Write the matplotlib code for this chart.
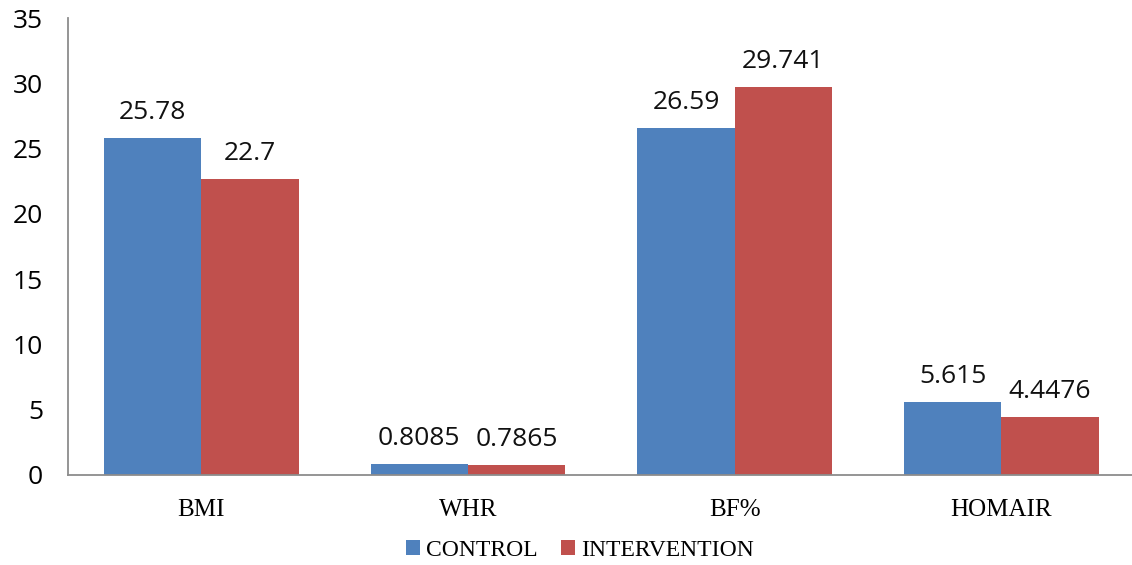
import numpy as np
import matplotlib.pyplot as plt

categories = ['BMI', 'WHR', 'BF%', 'HOMAIR']
control = [25.78, 0.8085, 26.59, 5.615]
intervention = [22.7, 0.7865, 29.741, 4.4476]
control_labels = ['25.78', '0.8085', '26.59', '5.615']
intervention_labels = ['22.7', '0.7865', '29.741', '4.4476']
yticks = [0, 5, 10, 15, 20, 25, 30, 35]

fig = plt.figure(figsize=(11.32, 5.65), dpi=100)
ax = fig.add_axes([68 / 1132, 90 / 565, 1 - 68 / 1132, 457 / 565])

x = np.arange(len(categories))
w = 0.365
b1 = ax.bar(x - w / 2, control, w, color='#4F81BD', label='CONTROL')
b2 = ax.bar(x + w / 2, intervention, w, color='#C0504D', label='INTERVENTION')

# value labels above each bar
for bars, labels in ((b1, control_labels), (b2, intervention_labels)):
    for rect, txt in zip(bars, labels):
        ax.text(rect.get_x() + rect.get_width() / 2, rect.get_height() + 1.0, txt,
                ha='center', va='bottom', fontsize=19, family='Open Sans', color='#111111')

ax.set_xlim(-0.5, 3.49)
ax.set_ylim(0, 35)
ax.set_yticks(yticks)
ax.set_yticklabels([str(t) for t in yticks], fontsize=19, family='Open Sans')
ax.set_xticks(x)
ax.set_xticklabels(categories, fontsize=18, family='Liberation Serif')
ax.tick_params(axis='both', length=0)
ax.tick_params(axis='y', pad=18)
ax.tick_params(axis='x', pad=17)

for s in ('top', 'right'):
    ax.spines[s].set_visible(False)
for s in ('left', 'bottom'):
    ax.spines[s].set_color('#8C8C8C')
    ax.spines[s].set_linewidth(1.3)

fig.legend(handles=[b1, b2], loc='center', bbox_to_anchor=(0.512, 1 - 550 / 565), ncol=2,
           frameon=False, prop={'family': 'Liberation Serif', 'size': 17},
           handlelength=0.6, handleheight=0.6, handletextpad=0.25, columnspacing=1.0,
           borderaxespad=0, borderpad=0)

fig.savefig('out.png', dpi=100)
